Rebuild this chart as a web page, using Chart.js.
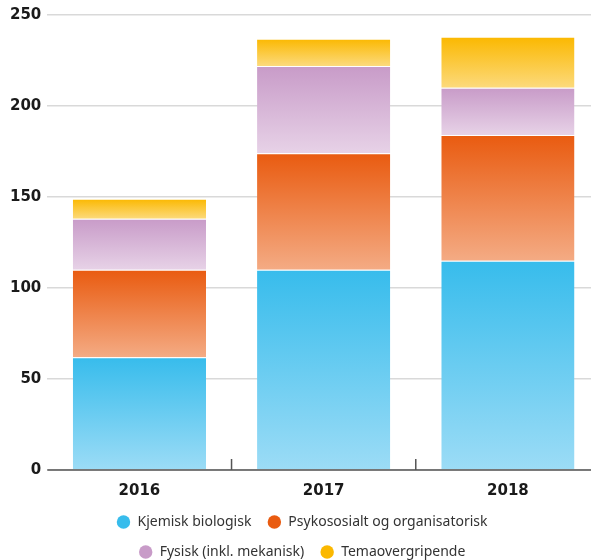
<!DOCTYPE html>
<html>
<head>
<meta charset="utf-8">
<script src="https://cdn.jsdelivr.net/npm/chart.js@4.4.1/dist/chart.umd.min.js"></script>
<style>
  body { margin: 0; background: #fff; overflow: hidden; }
  #wrap { width: 610px; height: 571px; }
</style>
</head>
<body>
<div id="wrap"><canvas id="c" width="610" height="571"></canvas></div>
<script>
var years = ['2016', '2017', '2018'];
var kjemisk = [62, 110, 115];
var psykososialt = [48, 64, 69];
var fysisk = [28, 48, 26];
var tema = [11, 15, 28];
var yTicks = [0, 50, 100, 150, 200, 250];

var series = [kjemisk, psykososialt, fysisk, tema];
var names = ['Kjemisk biologisk', 'Psykososialt og organisatorisk', 'Fysisk (inkl. mekanisk)', 'Temaovergripende'];
var topColors = ['#37bcec', '#e95b10', '#c89bc8', '#fbb800'];
var bottomColors = ['#9cdcf6', '#f4ab84', '#e7d2e7', '#fcda7c'];

// legend rows: two items per row like the original
var LegendEl = Chart.Legend._element;
var fitRows = LegendEl.prototype._fitRows;
LegendEl.prototype._fitRows = function () {
  var w = this.maxWidth;
  this.maxWidth = Math.min(w, 560);
  var h = fitRows.apply(this, arguments);
  this.maxWidth = w;
  return h;
};

// vertical gradient for each stacked segment
function segmentFill(d) {
  return function (c) {
    if (c.type !== 'data') return topColors[d];
    var chart = c.chart;
    if (!chart.chartArea || !chart.scales.y) return topColors[d];
    var i = c.dataIndex;
    var base = 0;
    for (var k = 0; k < d; k++) base += series[k][i];
    var y = chart.scales.y;
    var yTop = y.getPixelForValue(base + series[d][i]);
    var yBot = y.getPixelForValue(base);
    var g = chart.ctx.createLinearGradient(0, yTop, 0, yBot);
    g.addColorStop(0, topColors[d]);
    g.addColorStop(1, bottomColors[d]);
    return g;
  };
}

var datasets = series.map(function (vals, d) {
  return {
    label: names[d],
    data: vals,
    backgroundColor: segmentFill(d),
    borderWidth: { top: 1 },
    borderColor: 'rgba(255,255,255,0.6)',
    borderSkipped: 'bottom',
    categoryPercentage: 1,
    barPercentage: 0.723
  };
});

// small upward ticks between categories on the x axis
var betweenTicks = {
  id: 'betweenTicks',
  afterDatasetsDraw: function (chart) {
    var x = chart.scales.x, y = chart.scales.y, ctx = chart.ctx;
    var base = y.getPixelForValue(0);
    ctx.save();
    ctx.strokeStyle = '#555';
    ctx.lineWidth = 1.5;
    for (var i = 0; i < years.length - 1; i++) {
      var px = (x.getPixelForValue(i) + x.getPixelForValue(i + 1)) / 2;
      ctx.beginPath();
      ctx.moveTo(px, base);
      ctx.lineTo(px, base - 11);
      ctx.stroke();
    }
    ctx.beginPath();
    ctx.moveTo(chart.chartArea.left, base);
    ctx.lineTo(chart.chartArea.right, base);
    ctx.stroke();
    ctx.restore();
  }
};

new Chart(document.getElementById('c'), {
  type: 'bar',
  data: { labels: years, datasets: datasets },
  plugins: [betweenTicks],
  options: {
    responsive: false,
    animation: false,
    layout: { padding: { top: 14, left: 4, right: 10, bottom: 2 } },
    scales: {
      x: {
        stacked: true,
        grid: { display: false },
        border: { display: false },
        afterFit: function (s) { s.height -= 5; },
        ticks: {
          padding: 4,
          color: '#1a1a1a',
          font: { family: 'DejaVu Sans', size: 15, weight: 'bold' }
        }
      },
      y: {
        stacked: true,
        min: 0,
        max: 250,
        afterBuildTicks: function (s) {
          s.ticks = yTicks.map(function (v) { return { value: v }; });
        },
        grid: { color: '#d9d9d9', lineWidth: 1.5, drawTicks: false },
        border: { display: false },
        ticks: {
          padding: 6,
          color: '#1a1a1a',
          font: { family: 'DejaVu Sans', size: 15, weight: 'bold' }
        }
      }
    },
    plugins: {
      tooltip: { enabled: false },
      legend: {
        position: 'bottom',
        labels: {
          usePointStyle: true,
          pointStyle: 'circle',
          boxWidth: 16,
          boxHeight: 9.5,
          padding: 16,
          color: '#333',
          font: { family: 'Noto Sans', size: 14 },
          generateLabels: function (chart) {
            return names.map(function (n, d) {
              return {
                text: n,
                fillStyle: topColors[d],
                strokeStyle: topColors[d],
                lineWidth: 0,
                pointStyle: 'circle',
                datasetIndex: d,
                hidden: false,
                fontColor: '#333'
              };
            });
          }
        }
      }
    }
  }
});
</script>
</body>
</html>
